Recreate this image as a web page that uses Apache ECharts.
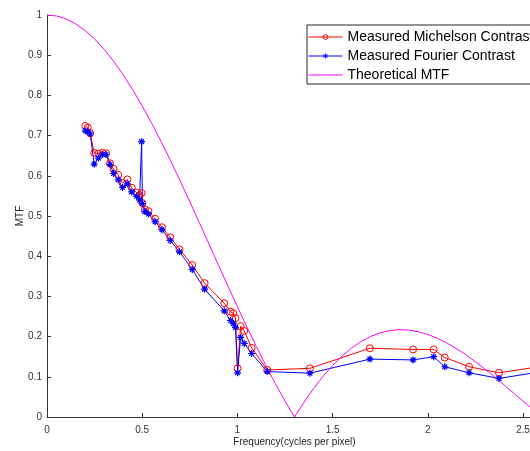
<!DOCTYPE html>
<html>
<head>
<meta charset="utf-8">
<script src="https://cdn.jsdelivr.net/npm/echarts@6/dist/echarts.min.js"></script>
<style>html,body{margin:0;padding:0;background:#fff;overflow:hidden;}#c{width:530px;height:451px;}</style>
</head>
<body>
<div id="c"></div>
<script>
var freq = [0.201,0.214,0.227,0.248,0.270,0.291,0.310,0.331,0.350,0.374,0.397,0.422,0.445,0.471,0.486,0.497,0.501,0.514,0.533,0.568,0.604,0.647,0.696,0.763,0.828,0.931,0.964,0.978,0.990,1.001,1.017,1.036,1.075,1.157,1.381,1.696,1.923,2.031,2.089,2.217,2.374,2.600];
var michelson = [0.724,0.720,0.706,0.657,0.655,0.657,0.656,0.631,0.617,0.602,0.582,0.591,0.570,0.558,0.552,0.557,0.532,0.516,0.512,0.493,0.472,0.447,0.417,0.378,0.333,0.283,0.262,0.258,0.246,0.121,0.226,0.214,0.172,0.117,0.121,0.171,0.168,0.168,0.148,0.125,0.110,0.126];
var fourier = [0.712,0.710,0.704,0.629,0.644,0.653,0.653,0.628,0.606,0.590,0.571,0.580,0.560,0.549,0.540,0.685,0.531,0.511,0.505,0.486,0.466,0.439,0.411,0.367,0.318,0.264,0.240,0.233,0.223,0.110,0.198,0.183,0.158,0.113,0.109,0.144,0.142,0.150,0.125,0.110,0.096,0.113];
var theoryFreq = [0,0.05,0.1,0.15,0.2,0.25,0.3,0.35,0.4,0.45,0.5,0.55,0.6,0.65,0.7,0.75,0.8,0.85,0.9,0.95,1.0,1.05,1.1,1.15,1.2,1.25,1.3,1.35,1.4,1.45,1.5,1.55,1.6,1.65,1.7,1.75,1.8,1.85,1.9,1.95,2.0,2.05,2.1,2.15,2.2,2.25,2.3,2.35,2.4,2.45,2.5,2.55,2.6];
var theoryMTF = [1,0.9976,0.9903,0.9782,0.9615,0.9403,0.9147,0.8850,0.8514,0.8142,0.7738,0.7305,0.6846,0.6366,0.5868,0.5357,0.4836,0.4311,0.3784,0.3260,0.2744,0.2239,0.1748,0.1276,0.0825,0.0399,0,0.0369,0.0707,0.1012,0.1282,0.1517,0.1715,0.1877,0.2003,0.2094,0.2150,0.2172,0.2162,0.2122,0.2054,0.1960,0.1842,0.1704,0.1548,0.1377,0.1193,0.1000,0.0801,0.0599,0.0396,0.0196,0];
var xTicks = [0,0.5,1,1.5,2,2.5];
var seriesNames = ['Measured Michelson Contrast','Measured Fourier Contrast','Theoretical MTF'];

function zip(a,b){var r=[];for(var i=0;i<a.length;i++){r.push([a[i],b[i]]);}return r;}
var FONT = '"Liberation Sans", Arial, Helvetica, sans-serif';
var AX = '#333333';
var star = 'path://M5,0L5,10M0,5L10,5M1.6,1.6L8.4,8.4M1.6,8.4L8.4,1.6';

var chart = echarts.init(document.getElementById('c'), null, {renderer:'canvas'});
chart.setOption({
  animation: false,
  backgroundColor: '#ffffff',
  textStyle: {fontFamily: FONT},
  grid: {left: 47, top: 15, width: 495, height: 402, containLabel: false, outerBoundsMode: 'none'},
  legend: {
    orient: 'vertical', left: 307, top: 25,
    itemWidth: 34, itemHeight: 6, itemGap: 5,
    padding: [5, 30, 2, 1],
    borderColor: '#262626', borderWidth: 1, backgroundColor: '#ffffff',
    textStyle: {fontFamily: FONT, fontSize: 14, color: '#000000'},
    lineStyle: {width: 1},
    data: [
      {name: seriesNames[0], itemStyle: {color: 'rgba(255,255,255,0)', borderColor: '#ff0000', borderWidth: 1}},
      {name: seriesNames[1], itemStyle: {color: '#0000ff', borderColor: '#0000ff', borderWidth: 1}},
      {name: seriesNames[2], itemStyle: {color: 'rgba(0,0,0,0)', borderColor: 'rgba(0,0,0,0)', borderWidth: 0}}
    ]
  },
  xAxis: {
    type: 'value', min: 0, max: 2.6, interval: 0.5,
    name: 'Frequency(cycles per pixel)', nameLocation: 'middle', nameGap: 20, nameMoveOverlap: false,
    nameTextStyle: {fontFamily: FONT, fontSize: 10, color: '#262626'},
    axisLine: {show: true, lineStyle: {color: AX, width: 1}},
    axisTick: {show: true, inside: true, length: 4, lineStyle: {color: AX}},
    axisLabel: {fontFamily: FONT, fontSize: 10, color: '#333333', margin: 8,
      formatter: function(v){ for (var i=0;i<xTicks.length;i++){ if (Math.abs(v-xTicks[i])<1e-6) return String(xTicks[i]); } return ''; }},
    splitLine: {show: false}
  },
  yAxis: {
    type: 'value', min: 0, max: 1, interval: 0.1,
    name: 'MTF', nameLocation: 'middle', nameGap: 22, nameRotate: 90, nameMoveOverlap: false,
    nameTextStyle: {fontFamily: FONT, fontSize: 10, color: '#262626'},
    axisLine: {show: true, lineStyle: {color: AX, width: 1}},
    axisTick: {show: true, inside: true, length: 4, lineStyle: {color: AX}},
    axisLabel: {fontFamily: FONT, fontSize: 10, color: '#333333', margin: 5,
      formatter: function(v){ return String(Math.round(v*10)/10); }},
    splitLine: {show: false}
  },
  series: [
    {
      name: seriesNames[0], type: 'line', data: zip(freq, michelson),
      symbol: 'circle', symbolSize: 7, showSymbol: true, showAllSymbol: true,
      lineStyle: {color: '#ff0000', width: 1},
      itemStyle: {color: 'rgba(255,255,255,0)', borderColor: '#ff0000', borderWidth: 1},
      emphasis: {disabled: true}
    },
    {
      name: seriesNames[1], type: 'line', data: zip(freq, fourier),
      symbol: star, symbolSize: 7, showSymbol: true, showAllSymbol: true,
      lineStyle: {color: '#0000ff', width: 1},
      itemStyle: {color: '#0000ff', borderColor: '#0000ff', borderWidth: 1.2},
      emphasis: {disabled: true}
    },
    {
      name: seriesNames[2], type: 'line', data: zip(theoryFreq, theoryMTF),
      symbol: 'none', showSymbol: false, smooth: false,
      lineStyle: {color: '#ff00ff', width: 1},
      itemStyle: {color: '#ff00ff'},
      emphasis: {disabled: true}
    }
  ]
});
</script>
</body>
</html>
